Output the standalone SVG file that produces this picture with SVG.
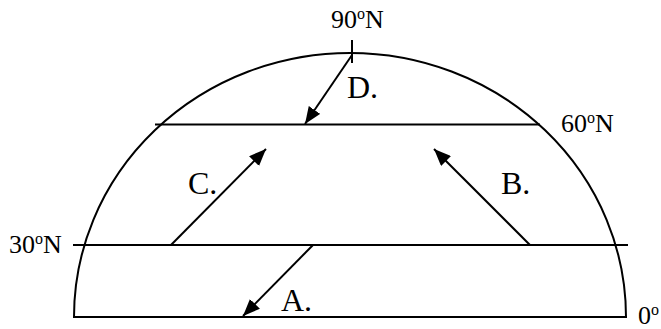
<svg xmlns="http://www.w3.org/2000/svg" width="661" height="329" viewBox="0 0 661 329">
<style>
.ln{fill:none;stroke:#000;stroke-width:2}
.t{font-family:"Liberation Serif","Times New Roman",serif;fill:#000}
.deg{font-size:26px}
.lab{font-size:32px}
.sup{font-size:16px}
</style>
<defs>
<marker id="ah" markerUnits="userSpaceOnUse" markerWidth="18" markerHeight="14" refX="17" refY="7" orient="auto">
<path d="M0,0 L17,7 L0,14 z" fill="#000"/>
</marker>
</defs>
<g id="frame">
<path class="ln" d="M74,317 A276,264 0 0 1 626,317"/>
<line class="ln" x1="73" y1="317" x2="627" y2="317"/>
<line class="ln" x1="73" y1="245" x2="628" y2="245"/>
<line class="ln" x1="155" y1="124.5" x2="540" y2="124.5"/>
<line class="ln" x1="352" y1="40" x2="352" y2="63"/>
</g>
<g id="connectors">
<line class="ln" x1="352" y1="55" x2="305" y2="124" marker-end="url(#ah)"/>
<line class="ln" x1="313" y1="245" x2="243" y2="316" marker-end="url(#ah)"/>
<line class="ln" x1="171" y1="245" x2="266" y2="149" marker-end="url(#ah)"/>
<line class="ln" x1="530" y1="245" x2="434" y2="149" marker-end="url(#ah)"/>
</g>
<g id="labels">
<text class="t deg" x="331" y="28">90<tspan class="sup" dy="-9">o</tspan><tspan dy="9">N</tspan></text>
<text class="t deg" x="9" y="253">30<tspan class="sup" dy="-9">o</tspan><tspan dy="9">N</tspan></text>
<text class="t deg" x="561" y="132">60<tspan class="sup" dy="-9">o</tspan><tspan dy="9">N</tspan></text>
<text class="t deg" x="638" y="324">0<tspan class="sup" dy="-9">o</tspan></text>
<text class="t lab" x="347" y="98">D.</text>
<text class="t lab" x="281" y="311">A.</text>
<text class="t lab" x="188" y="194">C.</text>
<text class="t lab" x="501" y="194">B.</text>
</g>
</svg>
